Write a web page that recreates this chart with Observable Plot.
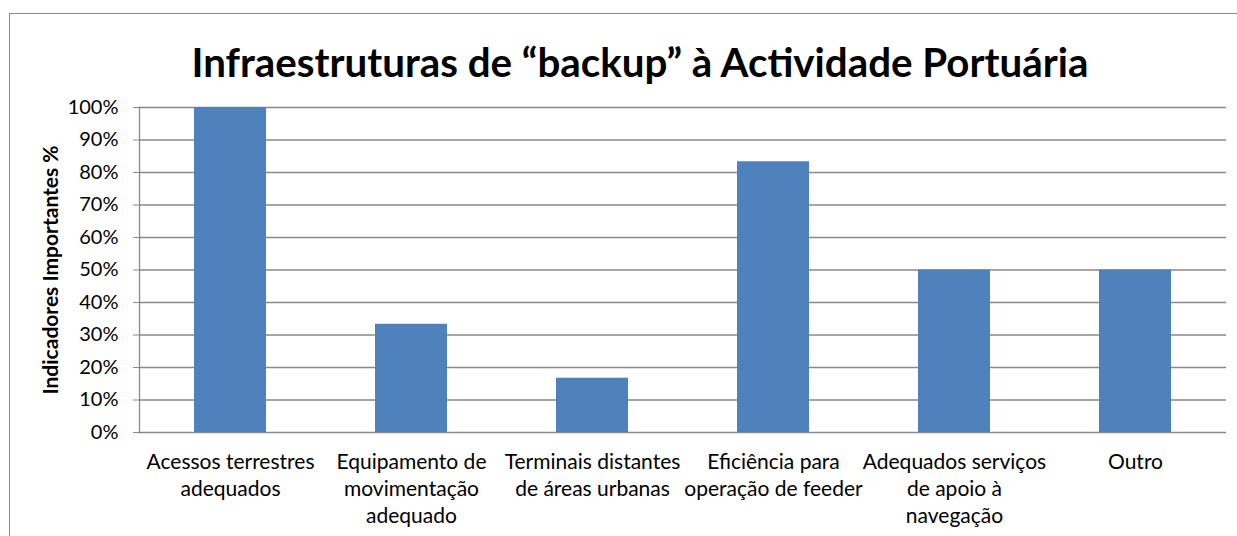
<!DOCTYPE html>
<html><head><meta charset="utf-8">
<script src="https://cdn.jsdelivr.net/npm/d3@7"></script>
<script src="https://cdn.jsdelivr.net/npm/@observablehq/plot@0.6"></script>
<style>
body{margin:0;background:#fff;font-family:Lato,sans-serif;}
#wrap{position:relative;width:1237px;height:536px;overflow:hidden;background:#fff;}
#border{position:absolute;left:9px;top:13px;width:1300px;height:600px;border:1.3px solid #8a8a8a;box-sizing:border-box;}
#title{position:absolute;left:140px;width:1000px;top:41.5px;text-align:center;font-weight:bold;font-size:40.3px;line-height:1;color:#000;white-space:nowrap;}
#chart{position:absolute;left:0;top:90px;}
</style>
</head><body>
<div id="wrap">
<div id="border"></div>
<div id="title">Infraestruturas de “backup” à Actividade Portuária</div>
<div id="chart"></div>
</div>
<script>
const categories = [
  "Acessos terrestres\nadequados",
  "Equipamento de\nmovimentação\nadequado",
  "Terminais distantes\nde áreas urbanas",
  "Eficiência para\noperação de feeder",
  "Adequados serviços\nde apoio à\nnavegação",
  "Outro"
];
const values = [100, 33.3, 16.7, 83.3, 50, 50];
const yTicks = [0, 10, 20, 30, 40, 50, 60, 70, 80, 90, 100];
const yLabel = "Indicadores Importantes %";

const table = categories.map((c, i) => ({category: c, value: values[i]}));

const chart = Plot.plot({
  width: 1237,
  height: 446,
  marginLeft: 139,
  marginRight: 11,
  marginTop: 17,
  marginBottom: 104,
  x: {domain: categories, paddingInner: 0.6, paddingOuter: 0.3, label: null},
  y: {domain: [0, 100], label: null},
  style: {fontFamily: "Lato, sans-serif", color: "#000", background: "transparent", overflow: "visible"},
  marks: [
    Plot.gridY(yTicks, {stroke: "#898989", strokeOpacity: 1, strokeWidth: 1.3}),
    Plot.barY(table, {x: "category", y: "value", fill: "#4F81BD"}),
    Plot.axisY(yTicks, {tickSize: 6, tickPadding: 15, tickFormat: d => d + "%", stroke: "#898989", fill: "#000", fontSize: 20}),
    Plot.axisX({tickSize: 0, tickPadding: 17, fontSize: 21, lineHeight: 1.29, fill: "#000"}),
    Plot.frame({anchor: "left", stroke: "#898989", strokeWidth: 1.3}),
    Plot.text([yLabel], {frameAnchor: "left", textAnchor: "middle", dx: -88, rotate: -90, fontWeight: "bold", fontSize: 21, fill: "#000"})
  ]
});
document.getElementById("chart").appendChild(chart);
</script>
</body></html>
